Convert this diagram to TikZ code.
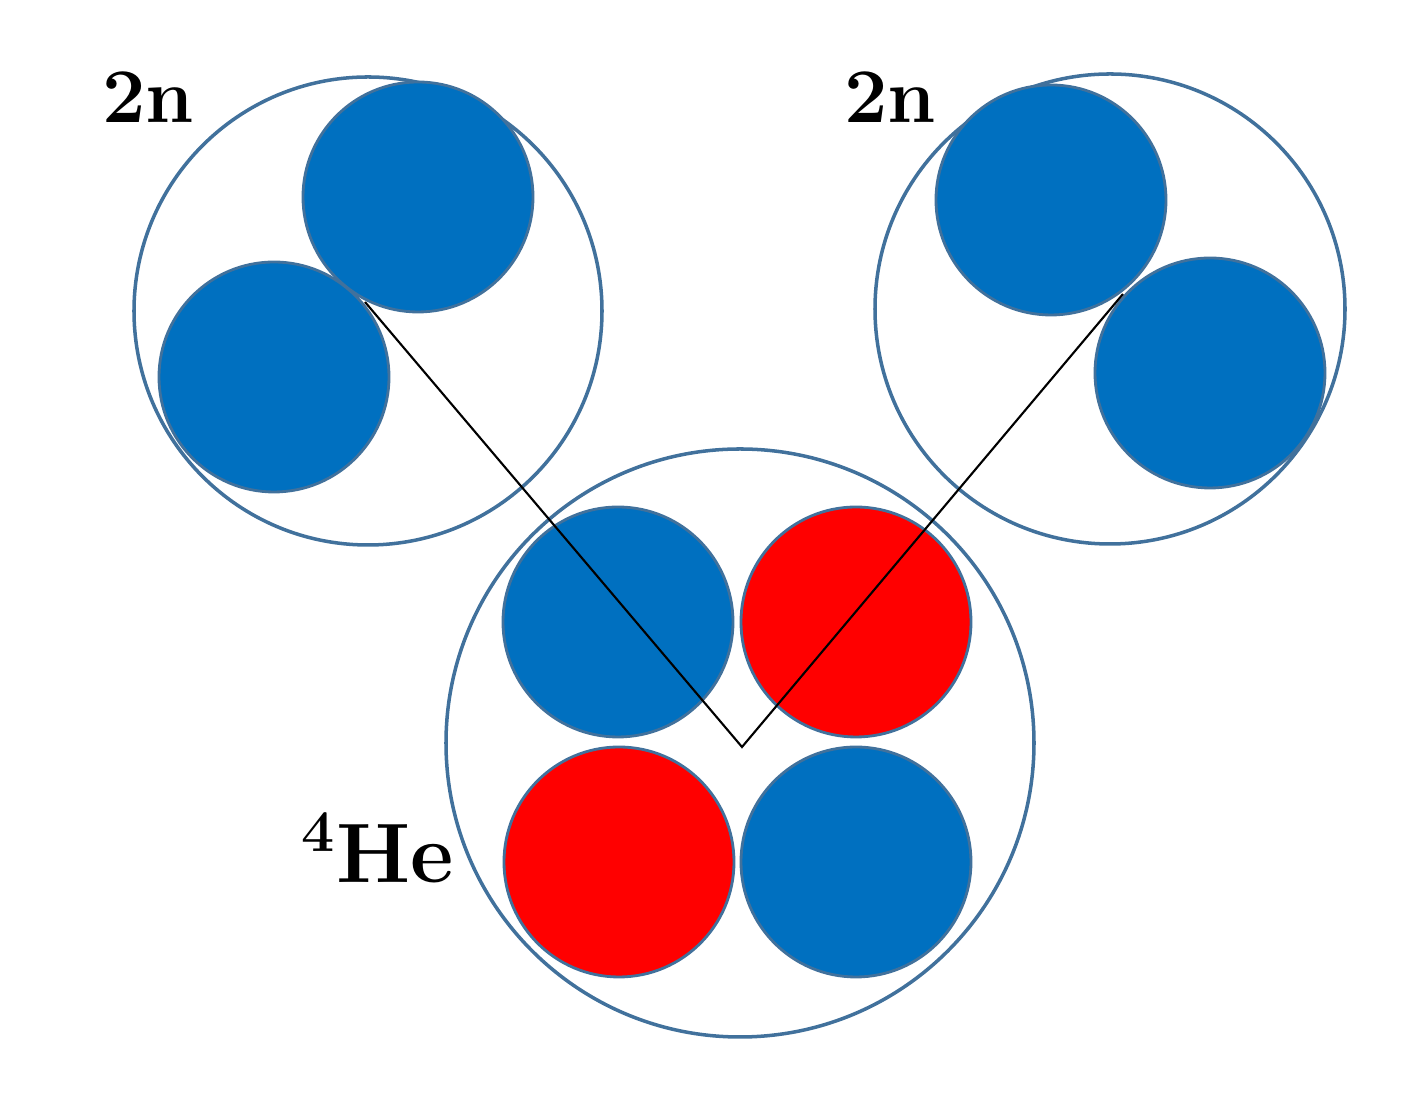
\documentclass[tikz,border=0pt]{standalone}
\usetikzlibrary{positioning}

\definecolor{nblue}{RGB}{0,112,192}
\definecolor{pred}{RGB}{255,0,0}
\definecolor{edge}{RGB}{65,113,156}

\begin{document}
\begin{tikzpicture}[
  shell/.style={circle, draw=edge, line width=1pt, inner sep=0pt, outer sep=0pt},
  neu/.style={circle, draw=edge, line width=0.8pt, fill=nblue,
              minimum size=2.3cm, inner sep=0pt, outer sep=0pt},
  pro/.style={neu, fill=pred},
  lbl/.style={anchor=base, inner sep=0pt, font=\bfseries\fontsize{22}{26}\selectfont},
  link/.style={draw=black, line width=0.6pt}
]
\useasboundingbox (0,0) rectangle (14.25,10.97);

% dineutron shells
\node[shell, minimum size=4.68cm] (s1) at (3.68, 7.86) {};
\node[shell, minimum size=4.70cm] (s2) at (11.10, 7.88) {};
\node[shell, minimum size=5.88cm] (she) at (7.40, 3.54) {};

% neutrons of the two 2n
\node[neu] (n1a) at (4.18, 9.00) {};
\node[neu] (n1b) at (2.74, 7.20) {};
\node[neu] (n2a) at (10.51, 8.97) {};
\node[neu] (n2b) at (12.10, 7.24) {};

% 4He core
\node[neu] (he1) at (6.18, 4.75) {};
\node[pro] (he2) at (8.56, 4.75) {};
\node[pro] (he3) at (6.19, 2.35) {};
\node[neu] (he4) at (8.56, 2.35) {};

% relative coordinates
\coordinate (c1) at (3.65, 7.95);
\coordinate (cm) at (7.42, 3.50);
\coordinate (c2) at (11.23, 8.03);
\draw[link] (c1) -- (cm) -- (c2);

\node[lbl] (t1) at (1.48, 9.74) {2n};
\node[lbl] (t2) at (8.90, 9.74) {2n};
\node[lbl, font=\bfseries\fontsize{24}{29}\selectfont] (t3) at (3.78, 2.14) {\textsuperscript{4}He};
\end{tikzpicture}
\end{document}
